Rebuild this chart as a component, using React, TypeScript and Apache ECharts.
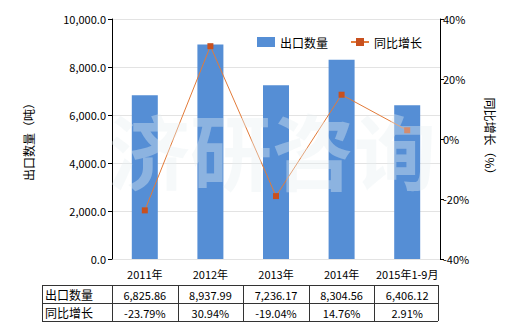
import React, { useEffect, useRef } from "react";
import * as echarts from "echarts";

const categories = ["2011年", "2012年", "2013年", "2014年", "2015年1-9月"];
const exportQty = [6825.86, 8937.99, 7236.17, 8304.56, 6406.12];
const yoyGrowth = [-23.79, 30.94, -19.04, 14.76, 2.91];
const qtyLabels = ["6,825.86", "8,937.99", "7,236.17", "8,304.56", "6,406.12"];
const growthLabels = ["-23.79%", "30.94%", "-19.04%", "14.76%", "2.91%"];
const seriesNames = ["出口数量", "同比增长"];

const FONT = "'Noto Sans CJK SC', 'Noto Sans', sans-serif";
const W = 520;
const H = 330;
const G_LEFT = 112;
const G_RIGHT = 440;
const G_TOP = 19;
const G_BOTTOM = 259;

export default function App() {
  const ref = useRef<HTMLDivElement>(null);
  useEffect(() => {
    if (!ref.current) return;
    const chart = echarts.init(ref.current, undefined, { renderer: "svg" });

    const tableLeft = 42;
    const tableTop = 285;
    const rowH = 18;
    const colW = (G_RIGHT - G_LEFT) / categories.length;
    const lineStyle = { stroke: "#333", lineWidth: 1 };
    const graphics: any[] = [];
    for (let r = 0; r <= 2; r++) {
      graphics.push({
        type: "line",
        shape: { x1: tableLeft, y1: tableTop + r * rowH + 0.5, x2: G_RIGHT - 2, y2: tableTop + r * rowH + 0.5 },
        style: lineStyle,
      });
    }
    const vx = [tableLeft, G_LEFT];
    for (let i = 1; i <= categories.length; i++) vx.push(Math.round(G_LEFT + i * colW) - (i === categories.length ? 2 : 0));
    vx.forEach((x) => {
      graphics.push({
        type: "line",
        shape: { x1: x + 0.5, y1: tableTop, x2: x + 0.5, y2: tableTop + 2 * rowH },
        style: lineStyle,
      });
    });
    const rows = [qtyLabels, growthLabels];
    rows.forEach((vals, r) => {
      graphics.push({
        type: "text",
        x: tableLeft + 3,
        y: tableTop + r * rowH + rowH / 2,
        style: { text: seriesNames[r], font: `12px ${FONT}`, fill: "#000", verticalAlign: "middle", align: "left" },
      });
      vals.forEach((v, i) => {
        graphics.push({
          type: "text",
          x: G_LEFT + (i + 0.5) * colW,
          y: tableTop + r * rowH + rowH / 2 + 1,
          style: { text: v, font: `11px ${FONT}`, fill: "#000", verticalAlign: "middle", align: "center" },
        });
      });
    });
    graphics.push({
      type: "text",
      x: 272,
      y: 148,
      z: 100,
      style: {
        text: "济研咨询",
        font: `bold 82px ${FONT}`,
        fill: "rgba(232,238,242,0.38)",
        align: "center",
        verticalAlign: "middle",
      },
    });

    chart.setOption({
      animation: false,
      backgroundColor: "#fff",
      textStyle: { fontFamily: FONT },
      legend: {
        top: 31,
        left: 252,
        itemGap: 22,
        itemWidth: 18,
        itemHeight: 10,
        textStyle: { fontSize: 12, color: "#000", fontFamily: FONT },
        data: [
          { name: seriesNames[0], icon: "rect" },
          { name: seriesNames[1] },
        ],
      },
      grid: { left: G_LEFT, right: W - G_RIGHT, top: G_TOP, bottom: H - G_BOTTOM, containLabel: false },
      xAxis: {
        type: "category",
        data: categories,
        axisLine: { show: false },
        axisTick: { show: false },
        axisLabel: { color: "#000", fontSize: 11, margin: 9, interval: 0 },
      },
      yAxis: [
        {
          type: "value",
          min: 0,
          max: 10000,
          interval: 2000,
          name: "出口数量（吨）",
          nameLocation: "middle",
          nameRotate: 90,
          nameGap: 78,
          nameTextStyle: { color: "#000", fontSize: 12 },
          axisLine: { show: true, lineStyle: { color: "#000" } },
          axisTick: { show: true, length: 4, lineStyle: { color: "#000" } },
          axisLabel: {
            color: "#000",
            fontSize: 11,
            margin: 6,
            formatter: (v: number) => v.toLocaleString("en-US", { minimumFractionDigits: 1, maximumFractionDigits: 1 }),
          },
          splitLine: { lineStyle: { color: "#e3e3e3" } },
        },
        {
          type: "value",
          min: -40,
          max: 40,
          interval: 20,
          position: "right",
          name: "同比增长（%）",
          nameLocation: "middle",
          nameRotate: -90,
          nameGap: 44,
          nameTextStyle: { color: "#000", fontSize: 12 },
          axisLine: { show: true, lineStyle: { color: "#000" } },
          axisTick: { show: true, length: 4, lineStyle: { color: "#000" } },
          axisLabel: { color: "#000", fontSize: 11, margin: 3, formatter: "{value}%" },
          splitLine: { show: false },
        },
      ],
      series: [
        {
          name: seriesNames[0],
          type: "bar",
          data: exportQty,
          barWidth: 26,
          itemStyle: { color: "#558ed5" },
        },
        {
          name: seriesNames[1],
          type: "line",
          yAxisIndex: 1,
          data: yoyGrowth,
          symbol: "rect",
          symbolSize: 6,
          itemStyle: { color: "#c8501e" },
          lineStyle: { color: "#e27b3a", width: 1 },
        },
      ],
      graphic: graphics,
    });
    return () => chart.dispose();
  }, []);
  return (
    <div
      ref={ref}
      style={{ position: "absolute", left: 0, top: 0, width: W, height: H }}
    />
  );
}
